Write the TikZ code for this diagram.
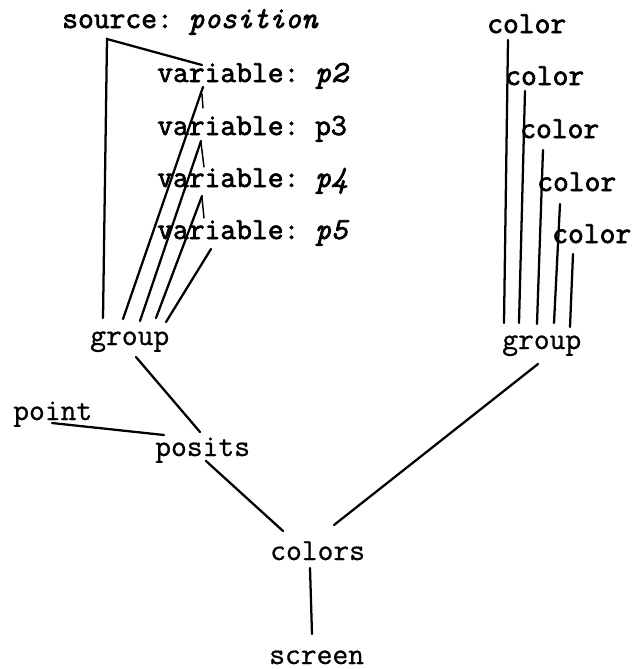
\documentclass[tikz,border=0pt]{standalone}
\usepackage{fontspec}
\newfontfamily\twr[FakeBold=0.8]{Latin Modern Mono}
\newfontfamily\twb[FakeBold=2.2]{Latin Modern Mono}
\frenchspacing
\begin{document}
\begin{tikzpicture}[x=0.75pt,y=-0.75pt,
  lbl/.style={anchor=base west,inner sep=0pt,font=\twr\fontsize{23}{26}\selectfont\frenchspacing},
  blbl/.style={lbl,font=\twb\fontsize{23}{26}\selectfont\frenchspacing},
  edge/.style={line width=1.7pt,line cap=round},
  tick/.style={line width=1.1pt,line cap=round}]
\useasboundingbox (0,0) rectangle (632,669);
% nodes
\node[blbl] (src) at (62,28) {source: \textit{position}};
\node[blbl] (v2) at (157,82) {variable: \textit{p2}};
\node[blbl] (v3) at (157,135) {variable: p3};
\node[blbl] (v4) at (157,187) {variable: \textit{p4}};
\node[blbl] (v5) at (157,239) {variable: \textit{p5}};
\node[lbl] (grpL) at (90,345) {group};
\node[lbl] (point) at (13,420) {point};
\node[lbl] (posits) at (155,456) {posits};
\node[lbl] (colors) at (270,560) {colors};
\node[lbl] (screen) at (269,664) {screen};
\node[blbl] (c1) at (487,33) {color};
\node[blbl] (c2) at (505,85) {color};
\node[blbl] (c3) at (520,138) {color};
\node[blbl] (c4) at (537,191) {color};
\node[blbl] (c5) at (552,243) {color};
\node[lbl] (grpR) at (502,349) {group};
% connector ends
\coordinate (srcA) at (107,39);
\coordinate (v2a) at (202,65);
\coordinate (v2b) at (203,87);
\coordinate (v3b) at (201,141);
\coordinate (v4b) at (202,196);
\coordinate (v5b) at (211,249);
\coordinate (gL0) at (103,318);
\coordinate (gL1) at (123,319);
\coordinate (gL2) at (140,321);
\coordinate (gL3) at (156,318);
\coordinate (gL4) at (166,322);
\coordinate (c1b) at (508,40);
\coordinate (c2b) at (525,91);
\coordinate (c3b) at (543,150);
\coordinate (c4b) at (560,204);
\coordinate (c5b) at (573,254);
\coordinate (gR1) at (504,323);
\coordinate (gR2) at (519,323);
\coordinate (gR3) at (537,324);
\coordinate (gR4) at (554,323);
\coordinate (gR5) at (570,327);
\coordinate (gLs) at (136,357);
\coordinate (posN) at (200,432);
\coordinate (ptS) at (52,423);
\coordinate (posW) at (164,435);
\coordinate (posS) at (206,461);
\coordinate (colNW) at (283,531);
\coordinate (gRs) at (538,364);
\coordinate (colNE) at (334,525);
\coordinate (colS) at (310,568);
\coordinate (scrN) at (312,634);
% connectors
\draw[edge] (gL0) -- (srcA) -- (v2a);
\draw[edge] (gL1) -- (v2b);
\draw[edge] (gL2) -- (v3b);
\draw[edge] (gL3) -- (v4b);
\draw[edge] (gL4) -- (v5b);
\draw[tick] (v2b) ++(-1,7) -- ++(1,14);
\draw[tick] (v3b) ++(0,2) -- ++(3,24);
\draw[tick] (v4b) ++(0,2) -- ++(2,20);
\draw[edge] (c1b) -- (gR1);
\draw[edge] (c2b) -- (gR2);
\draw[edge] (c3b) -- (gR3);
\draw[edge] (c4b) -- (gR4);
\draw[edge] (c5b) -- (gR5);
\draw[edge] (gLs) -- (posN);
\draw[edge] (ptS) -- (posW);
\draw[edge] (posS) -- (colNW);
\draw[edge] (gRs) -- (colNE);
\draw[edge] (colS) -- (scrN);
\end{tikzpicture}
\end{document}
